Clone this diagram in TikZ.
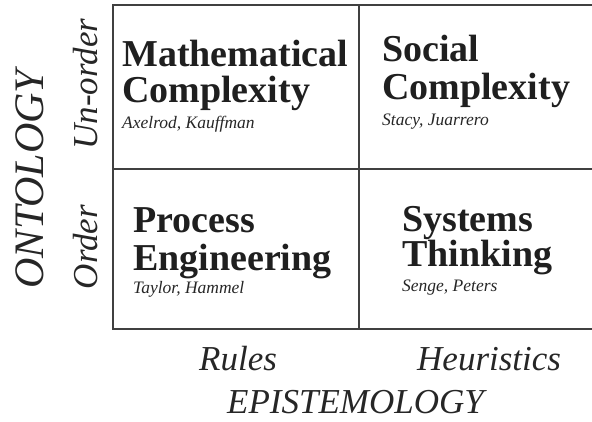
\documentclass[tikz,border=0pt]{standalone}
\usepackage{fontspec}
\setmainfont{Liberation Serif}
\begin{document}
\begin{tikzpicture}[x=1pt,y=-1pt,
  grid/.style={draw=black!75, line width=1.6pt, line join=miter},
  title/.style={anchor=base west, inner sep=0pt, text=black!88,
    font=\bfseries\fontsize{38}{38}\selectfont},
  author/.style={anchor=base west, inner sep=0pt, text=black!85,
    font=\itshape\fontsize{17.5}{17.5}\selectfont},
  axislabel/.style={inner sep=0pt, text=black!85,
    font=\itshape\fontsize{35}{35}\selectfont},
  axistitle/.style={inner sep=0pt, text=black!85,
    font=\itshape\fontsize{42}{42}\selectfont}]
\useasboundingbox (0,0) rectangle (592,422);

% frame of the two-by-two grid (open on the right)
\coordinate (tl) at (113,5);
\coordinate (tr) at (592,5);
\coordinate (bl) at (113,329);
\coordinate (br) at (592,329);
\coordinate (mt) at (359,5);
\coordinate (mb) at (359,329);
\coordinate (ml) at (113,169);
\coordinate (mr) at (592,169);
\draw[grid] (tr) -- (tl) -- (bl) -- (br);
\draw[grid] (mt) -- (mb);
\draw[grid] (ml) -- (mr);

% upper left quadrant
\node[title]  (math1) at (122,67)  {Mathematical};
\node[title]  (math2) at (122,103) {Complexity};
\node[author] (mathA) at (122,129) {Axelrod, Kauffman};

% upper right quadrant
\node[title]  (soc1) at (382,62)  {Social};
\node[title]  (soc2) at (382,100) {Complexity};
\node[author] (socA) at (382,126) {Stacy, Juarrero};

% lower left quadrant
\node[title]  (proc1) at (133,233) {Process};
\node[title]  (proc2) at (133,271) {Engineering};
\node[author] (procA) at (133,294) {Taylor, Hammel};

% lower right quadrant
\node[title]  (sys1) at (402,232) {Systems};
\node[title]  (sys2) at (402,267) {Thinking};
\node[author] (sysA) at (402,291) {Senge, Peters};

% vertical axis
\node[axistitle, anchor=base, rotate=90] (onto) at (43,179) {ONTOLOGY};
\node[axislabel, anchor=base, rotate=90] (unord) at (97,84) {Un-order};
\node[axislabel, anchor=base, rotate=90] (ord) at (97,247) {Order};

% horizontal axis
\node[axislabel, anchor=base west] (rules) at (199,370) {Rules};
\node[axislabel, anchor=base west] (heur) at (417,370) {Heuristics};
\node[axislabel, anchor=base west] (episte) at (227,413) {EPISTEMOLOGY};
\end{tikzpicture}
\end{document}
